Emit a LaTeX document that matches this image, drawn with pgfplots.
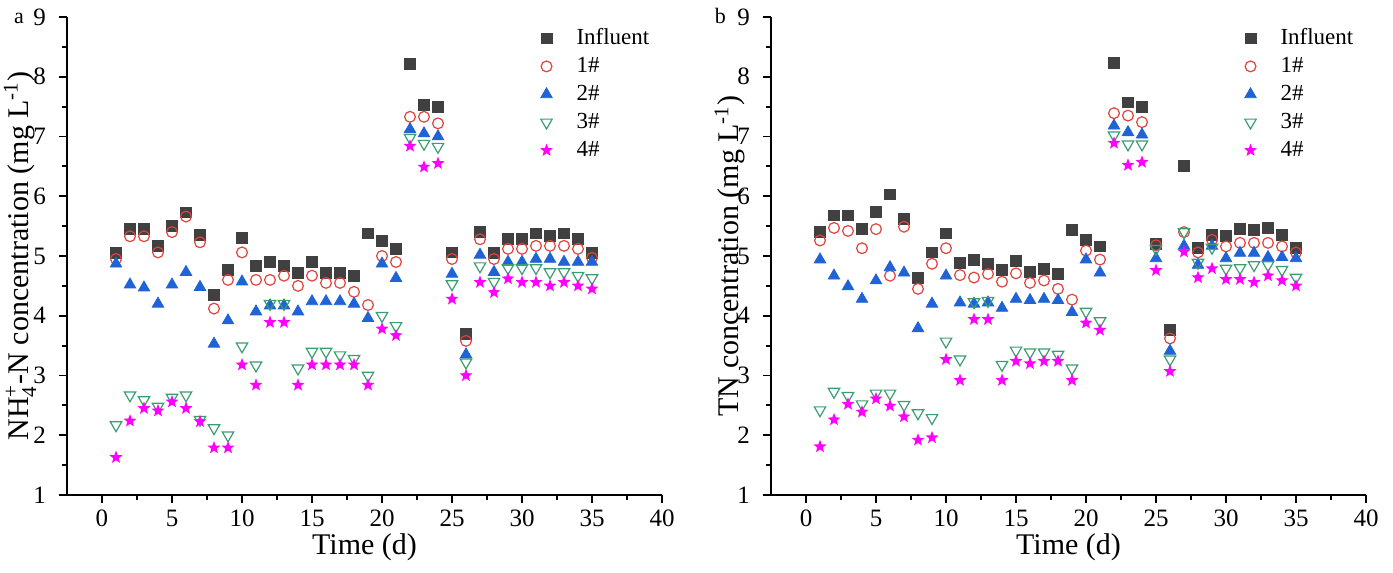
\documentclass[border=0pt]{standalone}
\usepackage{fontspec}
\setmainfont{Liberation Serif}
\usepackage{amsmath}
\usepackage{pgfplots}
\pgfplotsset{compat=1.18}
\usepackage{pgfplotstable}

\definecolor{infgray}{HTML}{404040}
\definecolor{onered}{HTML}{E2413C}
\definecolor{twoblue}{HTML}{1F63D6}
\definecolor{threegreen}{HTML}{3A9E72}
\definecolor{fourmag}{HTML}{FF00FF}

% gefuellter fuenfzackiger Stern
\pgfdeclareplotmark{fstar}{%
  \pgfpathmoveto{\pgfpointpolar{90}{\pgfplotmarksize}}%
  \pgfpathlineto{\pgfpointpolar{126}{0.42\pgfplotmarksize}}%
  \pgfpathlineto{\pgfpointpolar{162}{\pgfplotmarksize}}%
  \pgfpathlineto{\pgfpointpolar{198}{0.42\pgfplotmarksize}}%
  \pgfpathlineto{\pgfpointpolar{234}{\pgfplotmarksize}}%
  \pgfpathlineto{\pgfpointpolar{270}{0.42\pgfplotmarksize}}%
  \pgfpathlineto{\pgfpointpolar{306}{\pgfplotmarksize}}%
  \pgfpathlineto{\pgfpointpolar{342}{0.42\pgfplotmarksize}}%
  \pgfpathlineto{\pgfpointpolar{18}{\pgfplotmarksize}}%
  \pgfpathlineto{\pgfpointpolar{54}{0.42\pgfplotmarksize}}%
  \pgfpathclose\pgfusepathqfill}

% NH4+-N
\pgfplotstableread{
d inf s1 s2 s3 s4
1 5.05 4.95 4.87 2.17 1.63
2 5.45 5.33 4.52 2.67 2.24
3 5.45 5.33 4.47 2.59 2.45
4 5.17 5.06 4.20 2.48 2.41
5 5.50 5.40 4.52 2.63 2.56
6 5.73 5.66 4.73 2.67 2.45
7 5.35 5.23 4.48 2.26 2.23
8 4.35 4.12 3.53 2.12 1.79
9 4.77 4.60 3.92 2.00 1.79
10 5.30 5.06 4.57 3.49 3.18
11 4.83 4.60 4.07 3.17 2.84
12 4.90 4.60 4.17 4.20 3.89
13 4.83 4.67 4.17 4.20 3.89
14 4.72 4.50 4.07 3.12 2.84
15 4.90 4.67 4.24 3.40 3.18
16 4.72 4.55 4.24 3.40 3.18
17 4.72 4.55 4.24 3.34 3.18
18 4.67 4.40 4.20 3.28 3.18
19 5.38 4.18 3.96 3.00 2.84
20 5.25 5.00 4.87 4.00 3.78
21 5.12 4.90 4.63 3.83 3.67
22 8.21 7.33 7.12 6.98 6.84
23 7.53 7.33 7.05 6.88 6.49
24 7.50 7.22 7.00 6.83 6.55
25 5.06 4.95 4.70 4.53 4.28
26 3.70 3.58 3.35 3.22 3.00
27 5.40 5.28 5.02 4.83 4.56
28 5.05 4.95 4.73 4.57 4.39
29 5.28 5.12 4.90 4.80 4.62
30 5.28 5.12 4.90 4.80 4.56
31 5.38 5.17 4.95 4.80 4.56
32 5.33 5.17 4.95 4.73 4.50
33 5.38 5.17 4.90 4.73 4.56
34 5.28 5.12 4.90 4.67 4.50
35 5.05 4.97 4.90 4.63 4.45
}\tabA

% TN
\pgfplotstableread{
d inf s1 s2 s3 s4
1 5.40 5.26 4.94 2.42 1.81
2 5.68 5.47 4.67 2.73 2.26
3 5.68 5.42 4.49 2.66 2.52
4 5.46 5.13 4.28 2.52 2.39
5 5.74 5.45 4.59 2.70 2.61
6 6.03 4.67 4.81 2.70 2.49
7 5.62 5.49 4.72 2.51 2.31
8 4.63 4.45 3.79 2.37 1.92
9 5.06 4.87 4.20 2.29 1.96
10 5.38 5.13 4.67 3.57 3.27
11 4.89 4.68 4.22 3.27 2.92
12 4.94 4.64 4.20 4.23 3.94
13 4.87 4.70 4.22 4.25 3.94
14 4.77 4.57 4.13 3.18 2.92
15 4.92 4.71 4.28 3.42 3.24
16 4.74 4.55 4.26 3.39 3.20
17 4.78 4.59 4.28 3.39 3.24
18 4.70 4.45 4.26 3.35 3.24
19 5.44 4.27 4.06 3.12 2.92
20 5.27 5.09 4.94 4.07 3.88
21 5.16 4.94 4.72 3.91 3.76
22 8.23 7.39 7.18 7.02 6.89
23 7.57 7.35 7.07 6.87 6.52
24 7.50 7.24 7.03 6.87 6.57
25 5.20 5.18 4.96 5.12 4.76
26 3.76 3.62 3.41 3.27 3.07
27 6.51 5.40 5.17 5.40 5.07
28 5.14 5.06 4.85 4.89 4.64
29 5.35 5.27 5.17 5.14 4.79
30 5.33 5.16 4.96 4.79 4.61
31 5.45 5.22 5.05 4.80 4.61
32 5.44 5.22 5.05 4.85 4.56
33 5.47 5.22 4.98 4.85 4.67
34 5.35 5.16 4.98 4.77 4.59
35 5.14 5.06 4.96 4.64 4.50
}\tabB

\pgfplotsset{
  npanel/.style={
    scale only axis,
    width=297.5pt, height=239pt,
    xmin=-2.5, xmax=40, ymin=1, ymax=9,
    axis x line*=bottom, axis y line*=left,
    axis line style={line width=1pt},
    xtick={0,5,...,40}, minor x tick num=1,
    ytick={1,2,...,9}, minor y tick num=1,
    tick align=outside,
    major tick length=4pt, minor tick length=2.5pt,
    every tick/.style={black, line width=0.9pt},
    tick label style={font=\fontsize{12.5}{14}\selectfont},
    yticklabel style={xshift=-3pt},
    /pgf/number format/assume math mode=true,
    label style={font=\fontsize{15}{18}\selectfont},
    xlabel={Time (d)},
    x label style={at={(axis description cs:0.5,0)}, anchor=base, yshift=-30pt},
    legend style={draw=none, fill=none, inner sep=0pt,
      at={(0.775,0.977)}, anchor=north west,
      font=\fontsize{11.5}{13}\selectfont, row sep=4pt,
      nodes={inner sep=0pt, text height=8pt, text depth=2pt}},
    legend cell align=left,
    clip=false,
  },
  pm/.style={only marks,
    legend image code/.code={%
      \path[draw=none, fill=none] (0pt,-3pt) rectangle (24pt,3pt);
      \draw[##1] plot coordinates {(9pt,0pt)};}},
  sInf/.style={pm, mark=square*, mark size=2.7pt, color=infgray},
  sOne/.style={pm, mark=o, mark size=2.7pt, color=onered, mark options={line width=0.6pt}},
  sTwo/.style={pm, mark=triangle*, mark size=3.3pt, color=twoblue},
  sThree/.style={pm, mark=triangle, mark size=3.3pt, color=threegreen, mark options={rotate=180, line width=0.6pt}},
  sFour/.style={pm, mark=fstar, mark size=3.4pt, color=fourmag},
}

\begin{document}
\begin{tikzpicture}
  \path[use as bounding box] (-33.5pt,-39pt) rectangle (663pt,247.5pt);

  % Panel a
  \begin{axis}[npanel, at={(0pt,0pt)}, anchor=south west,
      ylabel={NH$_{\text{4}}^{\text{+}}$-N concentration (mg L$^{\text{-1}}$)},
      y label style={at={([xshift=-23.5pt]axis description cs:0,0.5)}, anchor=center}]
    \addplot[sInf] table[x=d, y=inf] {\tabA};
    \addlegendentry{Influent}
    \addplot[sOne] table[x=d, y=s1] {\tabA};
    \addlegendentry{1\#}
    \addplot[sTwo] table[x=d, y=s2] {\tabA};
    \addlegendentry{2\#}
    \addplot[sThree] table[x=d, y=s3] {\tabA};
    \addlegendentry{3\#}
    \addplot[sFour] table[x=d, y=s4] {\tabA};
    \addlegendentry{4\#}
    \node[anchor=base east, font=\fontsize{11}{13}\selectfont]
      at ([xshift=-18pt, yshift=-3pt]rel axis cs:0,1) {a};
  \end{axis}

  % Panel b
  \begin{axis}[npanel, at={(352pt,0pt)}, anchor=south west,
      ylabel={TN concentration (mg L$^{\text{-1}}$)},
      y label style={at={([xshift=-20.5pt]axis description cs:0,0.5)}, anchor=center}]
    \addplot[sInf] table[x=d, y=inf] {\tabB};
    \addlegendentry{Influent}
    \addplot[sOne] table[x=d, y=s1] {\tabB};
    \addlegendentry{1\#}
    \addplot[sTwo] table[x=d, y=s2] {\tabB};
    \addlegendentry{2\#}
    \addplot[sThree] table[x=d, y=s3] {\tabB};
    \addlegendentry{3\#}
    \addplot[sFour] table[x=d, y=s4] {\tabB};
    \addlegendentry{4\#}
    \node[anchor=base east, font=\fontsize{11}{13}\selectfont]
      at ([xshift=-19pt, yshift=-3pt]rel axis cs:0,1) {b};
  \end{axis}
\end{tikzpicture}
\end{document}
